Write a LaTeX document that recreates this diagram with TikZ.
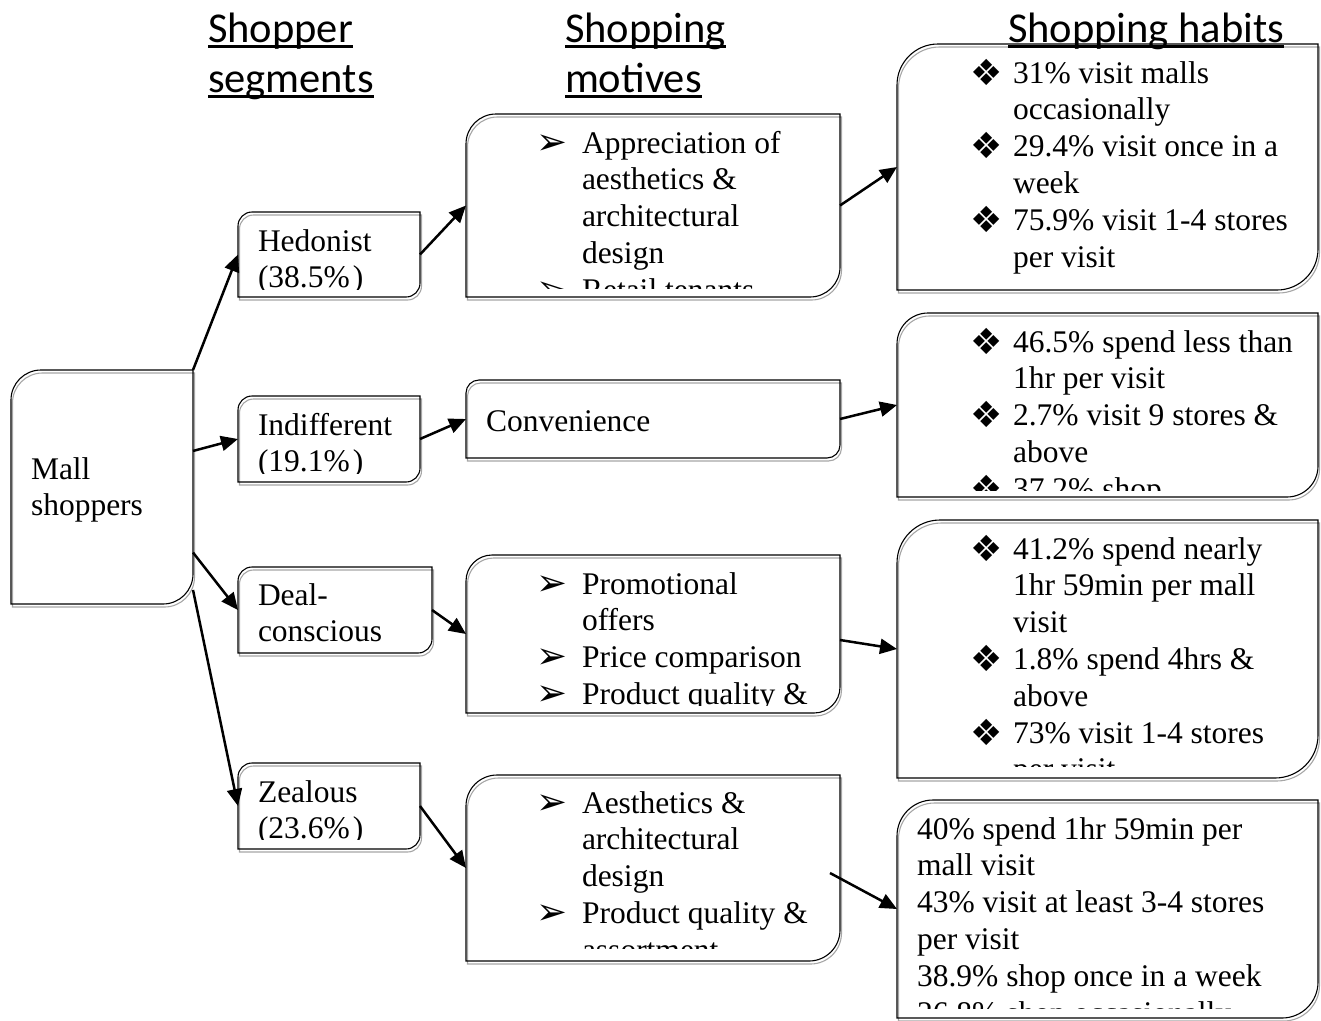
\documentclass[tikz,border=0pt]{standalone}
\usepackage{fontspec}
\usepackage{graphicx}
\setmainfont{Liberation Serif}
\newfontfamily\headfont{Carlito}
\newfontfamily\symfont{DejaVu Sans}
\usetikzlibrary{arrows.meta,calc}

\newcommand\myul[1]{\leavevmode\setbox0\hbox{#1}\rlap{\rule[-6pt]{\wd0}{3pt}}\box0}
\newcommand\bodyfont{\fontsize{31.5}{36.8}\selectfont}
\newcommand\arrb{\leavevmode\llap{\makebox[46pt][l]{\symfont\fontsize{37}{37}\selectfont\raisebox{-1pt}{➢}}}}
\newcommand\dmb{\leavevmode\llap{\makebox[43pt][l]{\symfont\fontsize{36}{36}\selectfont\raisebox{-2pt}{❖}}}}
\newcommand\txtbox[1]{\parbox[t]{430pt}{\bodyfont\raggedright #1}}
\newcommand\headbox[1]{\parbox[t]{300pt}{\headfont\fontsize{42.5}{50}\selectfont\raggedright #1}}

\newcommand\boxpath[4]{([xshift=#3,yshift=#4-#2]#1.north west) arc[start angle=180,end angle=90,radius=#2] -- ([xshift=#3,yshift=#4]#1.north east) -- ([xshift=#3,yshift=#4+#2]#1.south east) arc[start angle=0,end angle=-90,radius=#2] -- ([xshift=#3,yshift=#4]#1.south west) -- cycle}
\newcommand\drawbox[2]{\draw[shad] \boxpath{#1}{#2}{1.5pt}{-3pt};\draw[outl] \boxpath{#1}{#2}{0pt}{0pt};}

\tikzset{
 boxn/.style={draw=none, inner sep=0pt, outer sep=0pt, anchor=north west},
 txt/.style={inner sep=0pt, outer sep=0pt, anchor=base west},
 outl/.style={draw=black, line width=1.1pt},
 shad/.style={draw=black!35, line width=1.1pt},
 arr/.style={line width=2.5pt, -{Triangle[length=17pt,width=15pt]}},
}

\begin{document}
\begin{tikzpicture}[x=1pt,y=1pt]
\useasboundingbox (0,0) rectangle (1321,-1020);
% box nodes
\node[boxn, minimum width=182pt, minimum height=234pt] (mall) at (11,-370) {};
\node[boxn, minimum width=182pt, minimum height=85pt] (hed) at (238,-212) {};
\node[boxn, minimum width=182pt, minimum height=86pt] (ind) at (238,-396) {};
\node[boxn, minimum width=194pt, minimum height=86pt] (deal) at (238,-567) {};
\node[boxn, minimum width=182pt, minimum height=86pt] (zeal) at (238,-763) {};
\node[boxn, minimum width=374pt, minimum height=183pt] (mo1) at (466,-114) {};
\node[boxn, minimum width=374pt, minimum height=78pt] (mo2) at (466,-380) {};
\node[boxn, minimum width=374pt, minimum height=158pt] (mo3) at (466,-555) {};
\node[boxn, minimum width=374pt, minimum height=186pt] (mo4) at (466,-775) {};
\node[boxn, minimum width=421pt, minimum height=246pt] (ha1) at (897,-44) {};
\node[boxn, minimum width=421pt, minimum height=184pt] (ha2) at (897,-313) {};
\node[boxn, minimum width=421pt, minimum height=258pt] (ha3) at (897,-520) {};
\node[boxn, minimum width=421pt, minimum height=218pt] (ha4) at (897,-800) {};

\drawbox{mall}{30pt}
\drawbox{hed}{14pt}
\drawbox{ind}{14pt}
\drawbox{deal}{14pt}
\drawbox{zeal}{14pt}
\drawbox{mo1}{30pt}
\drawbox{mo2}{13pt}
\drawbox{mo3}{26pt}
\drawbox{mo4}{31pt}
\drawbox{ha1}{41pt}
\drawbox{ha2}{31pt}
\drawbox{ha3}{43pt}
\drawbox{ha4}{36pt}

% headings
\node[txt] (hseg) at (208,-42) {\headbox{\myul{Shopper}\\\myul{segments}}};
\node[txt] (hmot) at (565,-42) {\headbox{\myul{Shopping}\\\myul{motives}}};
\node[txt] (hhab) at (1008,-42) {\headbox{\myul{Shopping habits}}};

% texts
\node[txt] (tmall) at (31,-479) {\txtbox{Mall\\shoppers}};
\begin{scope}\clip (238,-212) rectangle (420,-289);
\node[txt] (thed) at (258,-251) {\txtbox{Hedonist\\(38.5\%\kern3pt)}};
\end{scope}
\begin{scope}\clip (238,-396) rectangle (420,-473);
\node[txt] (tind) at (258,-435) {\txtbox{Indifferent\\(19.1\%\kern3pt)}};
\end{scope}
\node[txt] (tdeal) at (258,-605) {\txtbox{Deal-\\conscious}};
\begin{scope}\clip (238,-763) rectangle (420,-839);
\node[txt] (tzeal) at (258,-802) {\txtbox{Zealous\\(23.6\%\kern3pt)}};
\end{scope}

\begin{scope}\clip (466,-114) rectangle (840,-288);
\node[txt] (tmo1) at (582,-153) {\txtbox{\arrb Appreciation of\\aesthetics \&\\architectural\\design\\\arrb Retail tenants}};
\end{scope}
\node[txt] (tmo2) at (486,-431) {\txtbox{Convenience}};
\begin{scope}\clip (466,-555) rectangle (840,-705);
\node[txt] (tmo3) at (582,-594) {\txtbox{\arrb Promotional\\offers\\\arrb Price comparison\\\arrb Product quality \&}};
\end{scope}
\begin{scope}\clip (466,-775) rectangle (840,-948);
\node[txt] (tmo4) at (582,-813) {\txtbox{\arrb Aesthetics \&\\architectural\\design\\\arrb Product quality \&\\assortment}};
\end{scope}

\node[txt] (tha1) at (1013,-83) {\txtbox{\dmb 31\% visit malls\\occasionally\\\dmb 29.4\% visit once in a\\week\\\dmb 75.9\% visit 1-4 stores\\per visit}};
\begin{scope}\clip (897,-313) rectangle (1318,-490);
\node[txt] (tha2) at (1013,-352) {\txtbox{\dmb 46.5\% spend less than\\1hr per visit\\\dmb 2.7\% visit 9 stores \&\\above\\\dmb 37.2\% shop}};
\end{scope}
\begin{scope}\clip (897,-520) rectangle (1318,-766);
\node[txt] (tha3) at (1013,-559) {\txtbox{\dmb 41.2\% spend nearly\\1hr 59min per mall\\visit\\\dmb 1.8\% spend 4hrs \&\\above\\\dmb 73\% visit 1-4 stores\\per visit}};
\end{scope}
\begin{scope}\clip (897,-800) rectangle (1318,-1008);
\node[txt] (tha4) at (917,-839) {\txtbox{40\% spend 1hr 59min per\\mall visit\\43\% visit at least 3-4 stores\\per visit\\38.9\% shop once in a week\\26.8\% shop occasionally}};
\end{scope}

% connectors
\draw[arr] (mall.north east) -- (hed.west);
\draw[arr] ($(mall.north east)!0.346!(mall.south east)$) -- (ind.west);
\draw[arr] ($(mall.north east)!0.78!(mall.south east)$) -- (deal.west);
\draw[arr] ($(mall.north east)!0.94!(mall.south east)$) -- (zeal.west);
\draw[arr] (hed.east) -- (mo1.west);
\draw[arr] (ind.east) -- (mo2.west);
\draw[arr] (deal.east) -- (mo3.west);
\draw[arr] (zeal.east) -- (mo4.west);
\draw[arr] (mo1.east) -- (ha1.west);
\draw[arr] (mo2.east) -- (ha2.west);
\draw[arr] ([yshift=-6pt]mo3.east) -- (ha3.west);
\draw[arr] ([xshift=-10pt,yshift=-5pt]mo4.east) -- (ha4.west);
\end{tikzpicture}
\end{document}
